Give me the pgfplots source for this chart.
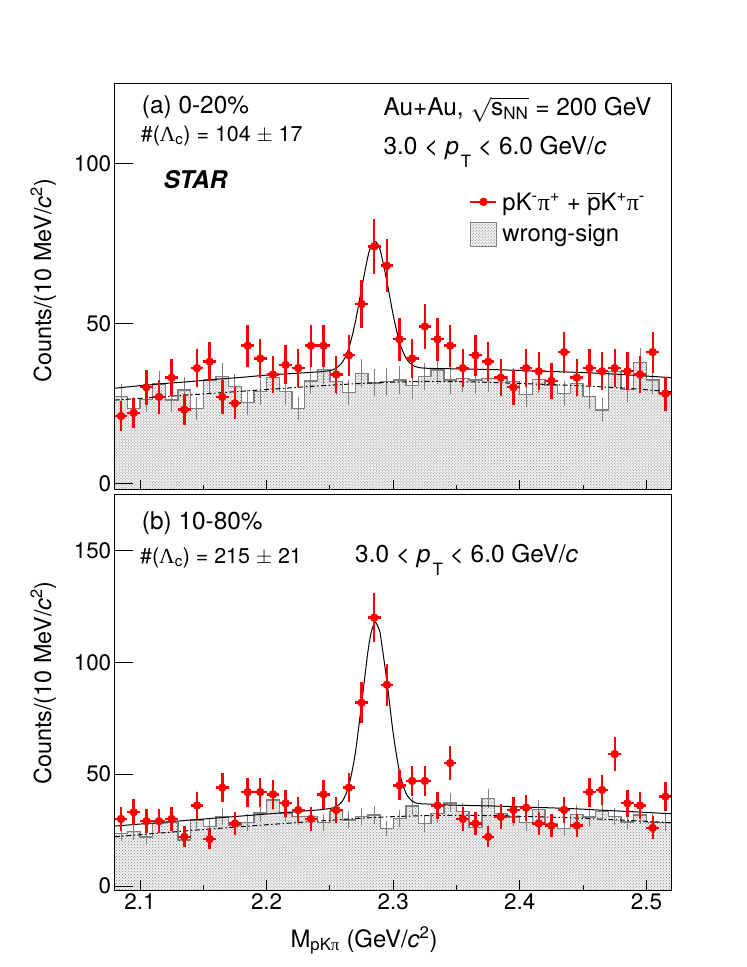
\documentclass[border=0pt]{standalone}
\usepackage{fontspec}
\setmainfont{TeX Gyre Heros}
\newfontfamily\symf{Liberation Serif}
\usepackage{amsmath}
\usepackage{pgfplots}
\usepackage{pgfplotstable}
\pgfplotsset{compat=1.18}
\usetikzlibrary{patterns}

% ---------- top panel (0-20%) ----------
\pgfplotstableread{
x y ey ex
2.085 21 4.58 0.005
2.095 22 4.69 0.005
2.105 30 5.48 0.005
2.115 27 5.20 0.005
2.125 33 5.74 0.005
2.135 23 4.80 0.005
2.145 36 6.00 0.005
2.155 38 6.16 0.005
2.165 27 5.20 0.005
2.175 25 5.00 0.005
2.185 43 6.56 0.005
2.195 39 6.24 0.005
2.205 34 5.83 0.005
2.215 37 6.08 0.005
2.225 36 6.00 0.005
2.235 43 6.56 0.005
2.245 43 6.56 0.005
2.255 34 5.83 0.005
2.265 40 6.32 0.005
2.275 56 7.48 0.005
2.285 74 8.60 0.005
2.295 68 8.25 0.005
2.305 45 6.71 0.005
2.315 39 6.24 0.005
2.325 49 7.00 0.005
2.335 45 6.71 0.005
2.345 43 6.56 0.005
2.355 36 6.00 0.005
2.365 40 6.32 0.005
2.375 38 6.16 0.005
2.385 33 5.74 0.005
2.395 30 5.48 0.005
2.405 36 6.00 0.005
2.415 35 5.92 0.005
2.425 32 5.66 0.005
2.435 41 6.40 0.005
2.445 33 5.74 0.005
2.455 36 6.00 0.005
2.465 35 5.92 0.005
2.475 36 6.00 0.005
2.485 35 5.92 0.005
2.495 34 5.83 0.005
2.505 41 6.40 0.005
2.515 28 5.29 0.005
}\topred

\pgfplotstableread{
x y e
2.085 -2 0
2.085 27.1 3.9
2.095 23.4 3.6
2.105 26.2 3.8
2.115 31.0 4.2
2.125 26.0 3.8
2.135 29.2 4.1
2.145 23.4 3.6
2.155 32.3 4.3
2.165 33.3 4.3
2.175 30.2 4.1
2.185 25.2 3.8
2.195 28.6 4.0
2.205 33.1 4.3
2.215 28.6 4.0
2.225 23.4 3.6
2.235 32.0 4.2
2.245 35.6 4.5
2.255 31.8 4.2
2.265 28.4 4.0
2.275 34.4 4.4
2.285 31.4 4.2
2.295 31.8 4.2
2.305 32.3 4.3
2.315 30.5 4.1
2.325 33.3 4.3
2.335 35.4 4.5
2.345 32.3 4.3
2.355 32.8 4.3
2.365 32.3 4.3
2.375 32.8 4.3
2.385 33.3 4.3
2.395 31.8 4.2
2.405 27.8 4.0
2.415 32.5 4.3
2.425 30.7 4.2
2.435 28.1 4.0
2.445 31.2 4.2
2.455 27.1 3.9
2.465 22.9 3.6
2.475 34.9 4.4
2.485 29.4 4.1
2.495 37.8 4.6
2.505 32.3 4.3
2.515 28.1 4.0
2.525 28.1 0
2.525 -2 0
}\tophist

% ---------- bottom panel (10-80%) ----------
\pgfplotstableread{
x y ey ex
2.085 30 5.48 0.005
2.095 33 5.74 0.005
2.105 29 5.39 0.005
2.115 29 5.39 0.005
2.125 30 5.48 0.005
2.135 22 4.69 0.005
2.145 36 6.00 0.005
2.155 21 4.58 0.005
2.165 44 6.63 0.005
2.175 28 5.29 0.005
2.185 42 6.48 0.005
2.195 42 6.48 0.005
2.205 41 6.40 0.005
2.215 37 6.08 0.005
2.225 34 5.83 0.005
2.235 30 5.48 0.005
2.245 41 6.40 0.005
2.255 34 5.83 0.005
2.265 44 6.63 0.005
2.275 82 9.06 0.005
2.285 120 10.95 0.005
2.295 90 9.49 0.005
2.305 45 6.71 0.005
2.315 47 6.86 0.005
2.325 47 6.86 0.005
2.335 36 6.00 0.005
2.345 55 7.42 0.005
2.355 30 5.48 0.005
2.365 28 5.29 0.005
2.375 22 4.69 0.005
2.385 31 5.57 0.005
2.395 34 5.83 0.005
2.405 35 5.92 0.005
2.415 28 5.29 0.005
2.425 27 5.20 0.005
2.435 34 5.83 0.005
2.445 27 5.20 0.005
2.455 42 6.48 0.005
2.465 43 6.56 0.005
2.475 59 7.68 0.005
2.485 37 6.08 0.005
2.495 36 6.00 0.005
2.505 26 5.10 0.005
2.515 40 6.32 0.005
}\botred

\pgfplotstableread{
x y e
2.085 -2 0
2.085 23.5 3.4
2.095 24.3 3.5
2.105 22.0 3.3
2.115 28.0 3.7
2.125 28.3 3.7
2.135 20.5 3.2
2.145 29.5 3.8
2.155 26.5 3.6
2.165 31.0 3.9
2.175 27.2 3.7
2.185 28.3 3.7
2.195 32.7 4.0
2.205 38.4 4.3
2.215 32.7 4.0
2.225 31.0 3.9
2.235 31.0 3.9
2.245 28.3 3.7
2.255 33.2 4.0
2.265 29.6 3.8
2.275 31.0 3.9
2.285 31.7 3.9
2.295 25.7 3.5
2.305 30.2 3.8
2.315 35.8 4.2
2.325 28.0 3.7
2.335 32.3 4.0
2.345 37.2 4.3
2.355 33.2 4.0
2.365 26.2 3.6
2.375 39.1 4.4
2.385 32.4 4.0
2.395 30.9 3.9
2.405 28.3 3.7
2.415 34.2 4.1
2.425 27.7 3.7
2.435 25.7 3.5
2.445 32.1 4.0
2.455 30.9 3.9
2.465 33.2 4.0
2.475 31.2 3.9
2.485 28.6 3.7
2.495 31.7 3.9
2.505 28.3 3.7
2.515 28.3 3.7
2.525 28.3 0
2.525 -2 0
}\bothist

\pgfplotsset{
  panel/.style={
    anchor=south west, width=557bp, scale only axis,
    xmin=2.08, xmax=2.52,
    xtick={2.1,2.2,2.3,2.4,2.5},
    minor xtick={2.15,2.25,2.35,2.45},
    tick align=inside, xtick pos=bottom, ytick pos=left,
    major tick length=10bp, minor tick length=5bp,
    axis line style={line width=1bp},
    every tick/.style={black, line width=1bp},
    ytick style={draw=none},
    tick label style={font=\fontsize{22.5}{26}\selectfont},
    /pgf/number format/assume math mode=true,
    axis on top,
  },
  histfill/.style={draw=none, fill=gray!10,
    postaction={pattern=crosshatch dots, pattern color=gray},
    const plot mark left, forget plot},
  histline/.style={draw=gray, line width=1.4bp, const plot mark left, mark=none, forget plot},
  histerr/.style={draw=none, mark=none, forget plot,
    skip coords between index={0}{1}, skip coords between index={45}{47},
    error bars/.cd, y dir=both, y explicit, error mark=none,
    error bar style={gray, line width=1bp}},
  reddata/.style={only marks, mark=*, mark size=4bp, color=red,
    mark options={fill=red, draw=red}, forget plot,
    error bars/.cd, x dir=both, x explicit, y dir=both, y explicit,
    error mark=none, error bar style={line width=2.4bp, red}},
  fitline/.style={black, line width=1bp, smooth, mark=none, forget plot},
  bkgline/.style={black, line width=1bp, smooth, mark=none, forget plot,
    dash pattern=on 5bp off 2.5bp on 1.5bp off 2.5bp},
}

\newcommand{\pT}{\textit{p}\hspace{2bp}\raisebox{-13bp}{\fontsize{17}{20}\selectfont T}}

\begin{document}
\begin{tikzpicture}
\useasboundingbox (0bp,0bp) rectangle (747bp,967bp);

% ================= TOP PANEL =================
\begin{axis}[panel, at={(114.7bp,477.3bp)}, height=406.4bp,
  ymin=-2, ymax=125, ytick={0,50,100}, xticklabels={},
  legend style={at={(0.6366,0.7325)}, anchor=north west, draw=none, fill=none,
    inner sep=0pt, row sep=10bp, font=\fontsize{24}{28}\selectfont,
    nodes={inner sep=0pt}, /tikz/every odd column/.style={column sep=5bp}},
  legend cell align=left]
\addplot[histfill] table[x expr=\thisrow{x}-0.005, y=y] {\tophist};
\addplot[histline] table[x expr=\thisrow{x}-0.005, y=y] {\tophist};
\addplot[histerr] table[x=x, y=y, y error=e] {\tophist};
\addplot[bkgline] coordinates {(2.08,26.0) (2.12,27.1) (2.16,28.2) (2.20,29.3) (2.24,30.4) (2.28,31.3) (2.32,31.8) (2.36,31.7) (2.40,31.2) (2.44,30.6) (2.48,29.8) (2.52,28.6)};
\addplot[fitline] coordinates {(2.08,29.7) (2.10,30.5) (2.12,31.2) (2.14,31.8) (2.16,32.5) (2.18,33.1) (2.20,33.8) (2.22,34.3) (2.24,34.8) (2.25,35.2) (2.255,36.0) (2.26,37.9) (2.265,42.3) (2.27,50.2) (2.275,60.8) (2.28,70.8) (2.2825,74.1) (2.2855,75.6) (2.288,74.6) (2.29,72.5) (2.295,63.2) (2.30,52.6) (2.305,44.1) (2.31,39.2) (2.315,37.0) (2.32,36.2) (2.33,35.9) (2.36,35.7) (2.39,35.4) (2.42,35.0) (2.45,34.6) (2.48,34.0) (2.52,33.0)};
\addplot[reddata] table[x=x, y=y, x error=ex, y error=ey] {\topred};
\draw[line width=1bp] (axis cs:2.08,0) -- ++(18bp,0bp);
\draw[line width=1bp] (axis cs:2.08,50) -- ++(18bp,0bp);
\draw[line width=1bp] (axis cs:2.08,100) -- ++(18bp,0bp);
\addlegendimage{legend image code/.code={\draw[red, line width=2bp] (0bp,0bp) -- (26bp,0bp); \fill[red] (13bp,0bp) circle (4bp);}}
\addlegendentry{pK$^{\text{-}}${\symf π}$^{\text{+}}$ + $\overline{\text{p}}$K$^{\text{+}}${\symf π}$^{\text{-}}$}
\addlegendimage{legend image code/.code={\draw[gray, line width=1bp, fill=gray!10, postaction={pattern=crosshatch dots, pattern color=gray}] (0bp,-12bp) rectangle (26bp,12bp);}}
\addlegendentry{wrong-sign}
\end{axis}

% ================= BOTTOM PANEL =================
\begin{axis}[panel, at={(114.7bp,76.5bp)}, height=395.8bp,
  ymin=-2, ymax=175, ytick={0,50,100,150}]
\addplot[histfill] table[x expr=\thisrow{x}-0.005, y=y] {\bothist};
\addplot[histline] table[x expr=\thisrow{x}-0.005, y=y] {\bothist};
\addplot[histerr] table[x=x, y=y, y error=e] {\bothist};
\addplot[bkgline] coordinates {(2.08,22.0) (2.12,23.9) (2.16,25.7) (2.20,27.4) (2.24,29.0) (2.28,30.5) (2.32,31.4) (2.36,31.6) (2.40,31.2) (2.44,30.5) (2.48,29.5) (2.52,28.3)};
\addplot[fitline] coordinates {(2.08,26.8) (2.10,27.7) (2.12,28.6) (2.14,29.5) (2.16,30.4) (2.18,31.3) (2.20,32.2) (2.22,33.1) (2.24,34.0) (2.25,34.7) (2.255,35.5) (2.26,38.1) (2.265,44.9) (2.27,59.2) (2.275,81.3) (2.28,104.7) (2.283,114.3) (2.286,117.9) (2.289,114.5) (2.29,111.9) (2.295,91.7) (2.30,68.3) (2.305,50.9) (2.31,41.6) (2.315,38.0) (2.32,36.9) (2.33,36.6) (2.345,36.2) (2.365,35.95) (2.385,35.7) (2.405,35.3) (2.425,34.95) (2.445,34.5) (2.465,33.9) (2.49,33.2) (2.52,32.3)};
\addplot[reddata] table[x=x, y=y, x error=ex, y error=ey] {\botred};
\draw[line width=1bp] (axis cs:2.08,0) -- ++(18bp,0bp);
\draw[line width=1bp] (axis cs:2.08,50) -- ++(18bp,0bp);
\draw[line width=1bp] (axis cs:2.08,100) -- ++(18bp,0bp);
\draw[line width=1bp] (axis cs:2.08,150) -- ++(18bp,0bp);
\end{axis}

% ================= TEXT =================
\begin{scope}[every node/.style={inner sep=0pt}]
\node[anchor=base west, font=\fontsize{24.5}{28}\selectfont] at (141.7bp,853.7bp) {(a) 0-20\%};
\node[anchor=base west, font=\fontsize{21.5}{25}\selectfont] at (140.7bp,825.3bp) {\#({\symf Λ}$_{\text{c}}$) = 104 $\pm$ 17};
\node[anchor=base west, font=\fontsize{24.5}{28}\selectfont\bfseries\itshape] at (163.3bp,778.7bp) {STAR};
\node[anchor=base west, font=\fontsize{24.5}{28}\selectfont] at (383.3bp,851bp) {Au+Au, $\sqrt{\text{s}_{\text{NN}}}$ = 200 GeV};
\node[anchor=base west, font=\fontsize{24.5}{28}\selectfont] at (383.3bp,812bp) {3.0 < \pT{} < 6.0 GeV/\textit{c}};

\node[anchor=base west, font=\fontsize{24.5}{28}\selectfont] at (141.7bp,437bp) {(b) 10-80\%};
\node[anchor=base west, font=\fontsize{21.5}{25}\selectfont] at (140bp,403.7bp) {\#({\symf Λ}$_{\text{c}}$) = 215 $\pm$ 21};
\node[anchor=base west, font=\fontsize{24.5}{28}\selectfont] at (355bp,404.3bp) {3.0 < \pT{} < 6.0 GeV/\textit{c}};

\node[anchor=base, font=\fontsize{24}{28}\selectfont] at (364bp,20bp) {M$_{\text{pK{\symf π}}}$ (GeV/\textit{c}$^{\text{2}}$)};
\node[anchor=base, rotate=90, font=\fontsize{23.5}{28}\selectfont] at (51bp,686bp) {Counts/(10 MeV/\textit{c}$^{\text{2}}$)};
\node[anchor=base, rotate=90, font=\fontsize{23.5}{28}\selectfont] at (51bp,284bp) {Counts/(10 MeV/\textit{c}$^{\text{2}}$)};
\end{scope}
\end{tikzpicture}
\end{document}
